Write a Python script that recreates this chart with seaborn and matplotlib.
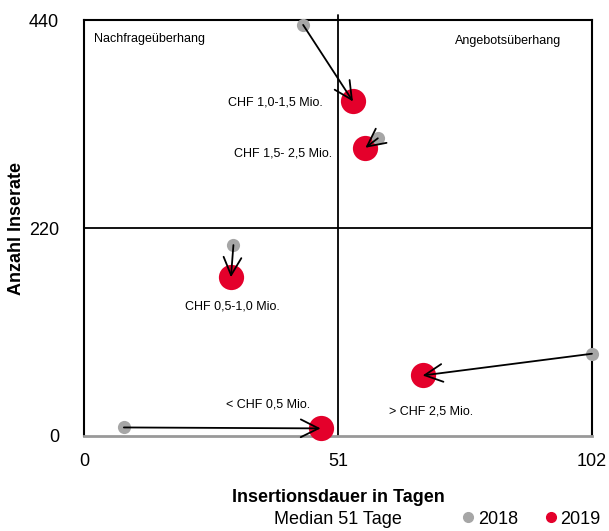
import pandas as pd
import matplotlib.pyplot as plt
import seaborn as sns

segments = ['< CHF 0,5 Mio.', 'CHF 0,5-1,0 Mio.', 'CHF 1,0-1,5 Mio.',
            'CHF 1,5- 2,5 Mio.', '> CHF 2,5 Mio.']
days_2018 = [8, 30, 44, 59, 102]
ads_2018 = [9, 202, 435, 315, 87]
days_2019 = [47.5, 29.5, 54, 56.5, 68]
ads_2019 = [8, 168, 354, 305, 64]
median_days = 51
mid_ads = 220

sns.set_theme(style='white')
plt.rcParams['font.family'] = ['Liberation Sans Narrow', 'Liberation Sans', 'DejaVu Sans']
plt.rcParams['text.color'] = 'black'
plt.rcParams['axes.labelcolor'] = 'black'

df = pd.DataFrame({
    'Segment': segments * 2,
    'Tage': days_2018 + days_2019,
    'Inserate': ads_2018 + ads_2019,
    'Jahr': ['2018'] * 5 + ['2019'] * 5,
})

fig = plt.figure(figsize=(6.09, 5.31), dpi=100)
ax = fig.add_axes([0.138, 0.179, 0.834, 0.783])

# quadrant lines
ax.axvline(median_days, ymin=0, ymax=1.012, color='black', lw=1.3, clip_on=False, zorder=1)
ax.axhline(mid_ads, color='black', lw=1.3, zorder=1)

palette = {'2018': '#a6a6a6', '2019': '#e4002b'}
sns.scatterplot(data=df[df['Jahr'] == '2019'], x='Tage', y='Inserate', color=palette['2019'],
                s=330, linewidth=0, ax=ax, zorder=3, legend=False, clip_on=False)
sns.scatterplot(data=df[df['Jahr'] == '2018'], x='Tage', y='Inserate', color=palette['2018'],
                s=90, linewidth=0, ax=ax, zorder=3, legend=False, clip_on=False)

# arrows 2018 -> 2019
for x0, y0, x1, y1 in zip(days_2018, ads_2018, days_2019, ads_2019):
    ax.annotate('', xy=(x1, y1), xytext=(x0, y0),
                arrowprops=dict(arrowstyle='->', color='black', lw=1.3,
                                mutation_scale=32, shrinkA=0, shrinkB=0),
                zorder=4)

# segment labels
offsets = [(-38, 17, 'center'), (1, -21, 'center'), (-22, -1, 'right'),
           (-24, -4, 'right'), (6, -26, 'center')]
for seg, x, y, (dx, dy, ha) in zip(segments, days_2019, ads_2019, offsets):
    ax.annotate(seg, xy=(x, y), xytext=(dx, dy), textcoords='offset points',
                ha=ha, va='center', fontsize=9)

ax.text(0.02, 0.955, 'Nachfrageüberhang', transform=ax.transAxes, fontsize=9,
        ha='left', va='center')
ax.text(0.94, 0.95, 'Angebotsüberhang', transform=ax.transAxes, fontsize=9,
        ha='right', va='center')

ax.set_xlim(0, 102)
ax.set_ylim(0, 440)
ax.set_xticks([0, median_days, 102])
ax.set_yticks([0, mid_ads, 440])
ax.tick_params(axis='both', length=0, labelsize=13, colors='black')
ax.tick_params(axis='x', pad=12)
ax.tick_params(axis='y', pad=18)

for side in ['top', 'left', 'right']:
    ax.spines[side].set_color('black')
    ax.spines[side].set_linewidth(1.5)
ax.spines['bottom'].set_color('#999999')
ax.spines['bottom'].set_linewidth(2)

ax.set_xlabel('Insertionsdauer in Tagen', fontsize=13, fontweight='bold', labelpad=14)
ax.set_ylabel('Anzahl Inserate', fontsize=13, fontweight='bold', labelpad=3)
fig.text(0.555, 0.022, 'Median 51 Tage', fontsize=13, ha='center', va='center')

# legend
handles = [plt.Line2D([], [], marker='o', ls='', color=palette[y], markersize=7) for y in ['2018', '2019']]
fig.legend(handles, ['2018', '2019'], loc='center', bbox_to_anchor=(0.87, 0.022),
           ncol=2, frameon=False, fontsize=13, handletextpad=0.05, columnspacing=1.3,
           handlelength=1.0)

fig.savefig('out.png', dpi=100)
